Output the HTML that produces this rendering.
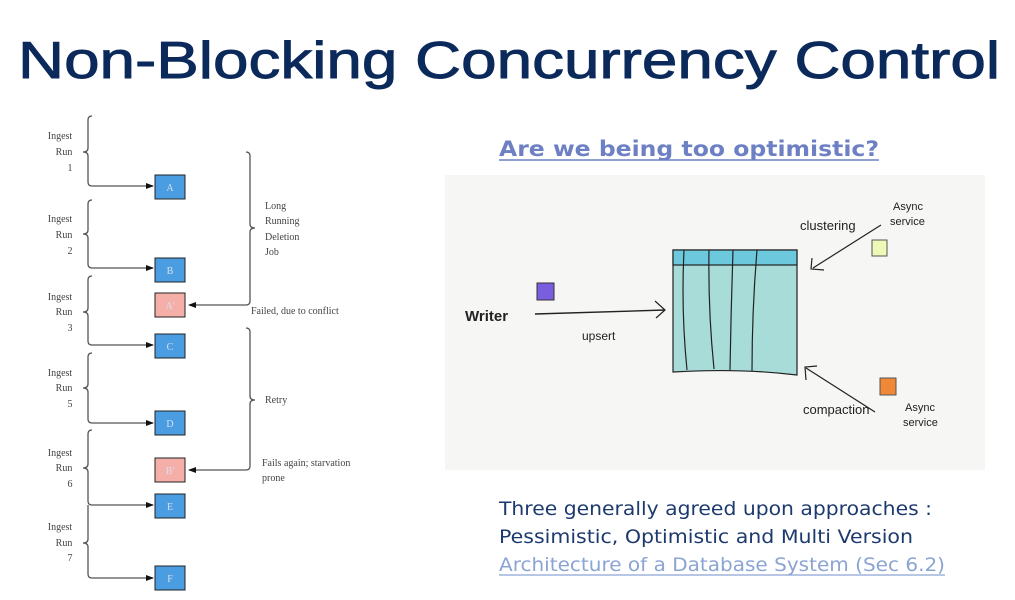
<!DOCTYPE html>
<html><head><meta charset="utf-8"><style>
html,body{margin:0;padding:0;background:#fff;}
svg{display:block;}
.s{font-family:"Liberation Serif",serif;font-size:10px;fill:#444;}
.h{font-family:"Liberation Sans",sans-serif;fill:#222;}
</style></head><body>
<svg width="1015" height="600" viewBox="0 0 1015 600">
<defs><marker id="ar" markerWidth="8" markerHeight="8" refX="7" refY="4" orient="auto" markerUnits="userSpaceOnUse"><path d="M0,1 L8,4 L0,7z" fill="#111"/></marker></defs>
<text x="18" y="78" font-family="Liberation Sans, sans-serif" font-size="52" fill="#0b2a5b" stroke="#0b2a5b" stroke-width="0.9" textLength="982" lengthAdjust="spacingAndGlyphs">Non-Blocking Concurrency Control</text>

<!-- left diagram -->
<g fill="none" stroke="#555" stroke-width="1.3">
<path d="M92 116 Q88 116 88 120 L88 148 Q88 152 83 152 Q88 152 88 156 L88 182 Q88 186 92 186 L153 186" marker-end="url(#ar)"/>
<path d="M92 200 Q88 200 88 204 L88 230 Q88 234 83 234 Q88 234 88 238 L88 264 Q88 268 92 268 L153 268" marker-end="url(#ar)"/>
<path d="M92 276 Q88 276 88 280 L88 308 Q88 312 83 312 Q88 312 88 316 L88 341 Q88 345 92 345 L153 345" marker-end="url(#ar)"/>
<path d="M92 353 Q88 353 88 357 L88 384 Q88 388 83 388 Q88 388 88 392 L88 419 Q88 423 92 423 L153 423" marker-end="url(#ar)"/>
<path d="M92 430 Q88 430 88 434 L88 464 Q88 468 83 468 Q88 468 88 472 L88 501 Q88 505 92 505 L153 505" marker-end="url(#ar)"/>
<path d="M88 505 L88 539 Q88 543 83 543 Q88 543 88 547 L88 574 Q88 578 92 578 L153 578" marker-end="url(#ar)"/>
<path d="M246 152 Q250 152 250 156 L250 224 Q250 228 255 228 Q250 228 250 232 L250 301 Q250 305 246 305 L189 305" marker-end="url(#ar)"/>
<path d="M246 328 Q250 328 250 332 L250 396 Q250 400 255 400 Q250 400 250 404 L250 466 Q250 470 246 470 L189 470" marker-end="url(#ar)"/>
</g>
<g stroke="#222" stroke-width="1">
<rect x="155" y="175" width="30" height="24" fill="#4a9de0"/>
<rect x="155" y="258" width="30" height="24" fill="#4a9de0"/>
<rect x="155" y="293" width="30" height="24" fill="#f4b0a8"/>
<rect x="155" y="334" width="30" height="24" fill="#4a9de0"/>
<rect x="155" y="411" width="30" height="24" fill="#4a9de0"/>
<rect x="155" y="458" width="30" height="24" fill="#f4b0a8"/>
<rect x="155" y="494" width="30" height="24" fill="#4a9de0"/>
<rect x="155" y="566" width="30" height="24" fill="#4a9de0"/>
</g>
<g font-family="Liberation Serif, serif" font-size="10" fill="#dde" text-anchor="middle">
<text x="170" y="191">A</text><text x="170" y="274">B</text><text x="170" y="309">A'</text><text x="170" y="350">C</text><text x="170" y="427">D</text><text x="170" y="474">B'</text><text x="170" y="510">E</text><text x="170" y="582">F</text>
</g>
<g class="s" text-anchor="middle">
<text x="60" y="139">Ingest</text><text x="64" y="155">Run</text><text x="70" y="171">1</text>
<text x="60" y="222">Ingest</text><text x="64" y="238">Run</text><text x="70" y="254">2</text>
<text x="60" y="300">Ingest</text><text x="64" y="315">Run</text><text x="70" y="331">3</text>
<text x="60" y="376">Ingest</text><text x="64" y="391">Run</text><text x="70" y="407">5</text>
<text x="60" y="456">Ingest</text><text x="64" y="471">Run</text><text x="70" y="487">6</text>
<text x="60" y="530">Ingest</text><text x="64" y="546">Run</text><text x="70" y="561">7</text>
</g>
<g class="s">
<text x="265" y="209">Long</text><text x="265" y="224">Running</text><text x="265" y="240">Deletion</text><text x="265" y="255">Job</text>
<text x="251" y="314">Failed, due to conflict</text>
<text x="265" y="403">Retry</text>
<text x="262" y="466">Fails again; starvation</text><text x="262" y="481">prone</text>
</g>

<!-- right -->
<text x="689" y="156" text-anchor="middle" font-family="DejaVu Sans, sans-serif" font-weight="bold" font-size="21" fill="#6d80c4" textLength="380" lengthAdjust="spacingAndGlyphs">Are we being too optimistic?</text>
<line x1="499" y1="160" x2="879" y2="160" stroke="#6d80c4" stroke-width="1.5"/>
<rect x="445" y="175" width="540" height="295" fill="#f6f6f5"/>
<path d="M673 250 L797 250 L797 375 Q740 368 673 372 Z" fill="#a8dcd8" stroke="#222" stroke-width="1.2"/>
<rect x="673" y="250" width="124" height="15" fill="#6cc8dc" stroke="#222" stroke-width="1.2"/>
<g stroke="#222" stroke-width="1.2" fill="none">
<path d="M684 250 Q681 310 687 370"/><path d="M709 250 Q708 310 714 369"/><path d="M733 250 Q731 310 730 370"/><path d="M757 250 Q752 310 752 371"/>
<path d="M535 314 L665 310" stroke-width="1.4"/><path d="M655 301 L665 310 L656 318"/>
<path d="M881 225 L813 268"/><path d="M812 258 L811 269 L824 270"/>
<path d="M875 412 L806 368"/><path d="M806 380 L805 367 L817 366"/>
</g>
<rect x="537" y="283" width="17" height="17" fill="#7a5ee0" stroke="#333"/>
<rect x="872" y="240" width="15" height="16" fill="#f0f8b8" stroke="#555"/>
<rect x="880" y="378" width="16" height="17" fill="#f08838" stroke="#555"/>
<g class="h">
<text x="465" y="321" font-size="15" font-weight="bold">Writer</text>
<text x="582" y="340" font-size="12">upsert</text>
<text x="800" y="230" font-size="13">clustering</text>
<text x="803" y="414" font-size="13">compaction</text>
<text x="893" y="210" font-size="11">Async</text><text x="890" y="225" font-size="11">service</text>
<text x="905" y="411" font-size="11">Async</text><text x="903" y="426" font-size="11">service</text>
</g>
<g font-family="DejaVu Sans, sans-serif" font-size="19">
<text x="499" y="515" fill="#1d3a6e" textLength="433" lengthAdjust="spacingAndGlyphs">Three generally agreed upon approaches :</text>
<text x="499" y="543" fill="#1d3a6e" textLength="414" lengthAdjust="spacingAndGlyphs">Pessimistic, Optimistic and Multi Version</text>
<text x="499" y="571" fill="#8aa4d4" textLength="446" lengthAdjust="spacingAndGlyphs">Architecture of a Database System (Sec 6.2)</text>
</g>
<line x1="499" y1="575" x2="945" y2="575" stroke="#8aa4d4" stroke-width="1.2"/>
</svg>
</body></html>
